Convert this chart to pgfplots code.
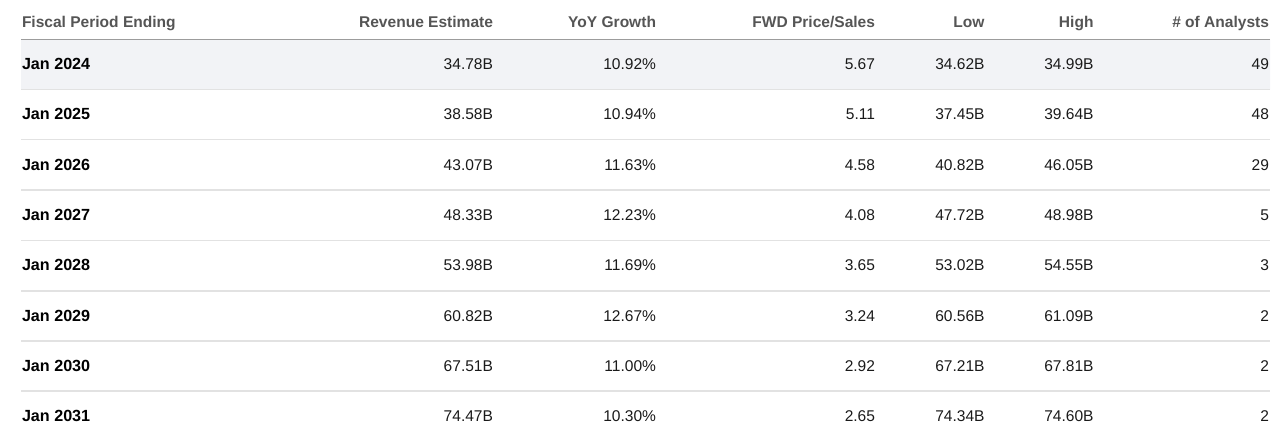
\documentclass[border=0pt]{standalone}
\usepackage{pgfplots}
\pgfplotsset{compat=1.18}
\usepackage{fontspec}
\setmainfont{Liberation Sans}
\definecolor{rowbg}{HTML}{F2F3F6}
\definecolor{hdrline}{HTML}{9C9C9C}
\definecolor{sepline}{HTML}{E2E2E2}
\definecolor{hdrtext}{HTML}{555555}
\definecolor{celltext}{HTML}{1A1A1A}
\begin{document}
\begin{tikzpicture}[x=1bp,y=1bp]
\begin{axis}[
  width=1280bp, height=437bp, scale only axis,
  xmin=0, xmax=1280, ymin=0, ymax=437, y dir=reverse,
  hide axis, clip=false,
  every node near coord/.append style={font=\fontsize{15.6}{18}\selectfont, inner sep=0pt, outer sep=0pt},
  cell/.style={only marks, mark=none, nodes near coords, point meta=explicit symbolic,
     nodes near coords style={anchor=base east, text=celltext}},
]
% invisible frame that fixes the picture's extent
\addplot[draw=none, fill=none] coordinates {(0,0) (1280,0) (1280,437) (0,437) (0,0)};
% row background
\addplot[fill=rowbg, draw=none] coordinates {(21,39.5) (1270,39.5) (1270,89.5) (21,89.5) (21,39.5)};
% separators
\addplot[color=sepline, line width=1.4bp] coordinates {(21,89.5) (1270,89.5)};
\addplot[color=sepline, line width=1.4bp] coordinates {(21,139.7) (1270,139.7)};
\addplot[color=sepline, line width=1.4bp] coordinates {(21,190) (1270,190)};
\addplot[color=sepline, line width=1.4bp] coordinates {(21,240.3) (1270,240.3)};
\addplot[color=sepline, line width=1.4bp] coordinates {(21,290.8) (1270,290.8)};
\addplot[color=sepline, line width=1.4bp] coordinates {(21,341) (1270,341)};
\addplot[color=sepline, line width=1.4bp] coordinates {(21,391) (1270,391)};
\addplot[color=hdrline, line width=1.2bp] coordinates {(21,39.2) (1270,39.2)};
% header
\addplot[only marks, mark=none, nodes near coords, point meta=explicit symbolic,
  nodes near coords style={anchor=base west, text=hdrtext, font=\fontsize{15.6}{18}\selectfont\bfseries}]
  table[col sep=comma, meta=label] {
x,y,label
22,27.5,Fiscal Period Ending
};
\addplot[only marks, mark=none, nodes near coords, point meta=explicit symbolic,
  nodes near coords style={anchor=base east, text=hdrtext, font=\fontsize{15.6}{18}\selectfont\bfseries}]
  table[col sep=comma, meta=label] {
x,y,label
493,27.5,Revenue Estimate
656,27.5,YoY Growth
875,27.5,FWD Price/Sales
984.5,27.5,Low
1093.5,27.5,High
1269,27.5,\# of Analysts
};
% first column
\addplot[only marks, mark=none, nodes near coords, point meta=explicit symbolic,
  nodes near coords style={anchor=base west, text=black, font=\fontsize{16.2}{18}\selectfont\bfseries}]
  table[col sep=comma, meta=label] {
x,y,label
22,69.5,Jan 2024
22,119.8,Jan 2025
22,170.1,Jan 2026
22,220.4,Jan 2027
22,270.7,Jan 2028
22,321,Jan 2029
22,371.2,Jan 2030
22,421,Jan 2031
};
% Revenue Estimate
\addplot[cell] table[col sep=comma, meta=label] {
x,y,label
493,69.5,34.78B
493,119.8,38.58B
493,170.1,43.07B
493,220.4,48.33B
493,270.7,53.98B
493,321,60.82B
493,371.2,67.51B
493,421,74.47B
};
% YoY Growth
\addplot[cell] table[col sep=comma, meta=label] {
x,y,label
656,69.5,10.92\%
656,119.8,10.94\%
656,170.1,11.63\%
656,220.4,12.23\%
656,270.7,11.69\%
656,321,12.67\%
656,371.2,11.00\%
656,421,10.30\%
};
% FWD Price/Sales
\addplot[cell] table[col sep=comma, meta=label] {
x,y,label
875,69.5,5.67
875,119.8,5.11
875,170.1,4.58
875,220.4,4.08
875,270.7,3.65
875,321,3.24
875,371.2,2.92
875,421,2.65
};
% Low
\addplot[cell] table[col sep=comma, meta=label] {
x,y,label
984.5,69.5,34.62B
984.5,119.8,37.45B
984.5,170.1,40.82B
984.5,220.4,47.72B
984.5,270.7,53.02B
984.5,321,60.56B
984.5,371.2,67.21B
984.5,421,74.34B
};
% High
\addplot[cell] table[col sep=comma, meta=label] {
x,y,label
1093.5,69.5,34.99B
1093.5,119.8,39.64B
1093.5,170.1,46.05B
1093.5,220.4,48.98B
1093.5,270.7,54.55B
1093.5,321,61.09B
1093.5,371.2,67.81B
1093.5,421,74.60B
};
% # of Analysts
\addplot[cell] table[col sep=comma, meta=label] {
x,y,label
1269,69.5,49
1269,119.8,48
1269,170.1,29
1269,220.4,5
1269,270.7,3
1269,321,2
1269,371.2,2
1269,421,2
};
\end{axis}
\end{tikzpicture}
\end{document}
